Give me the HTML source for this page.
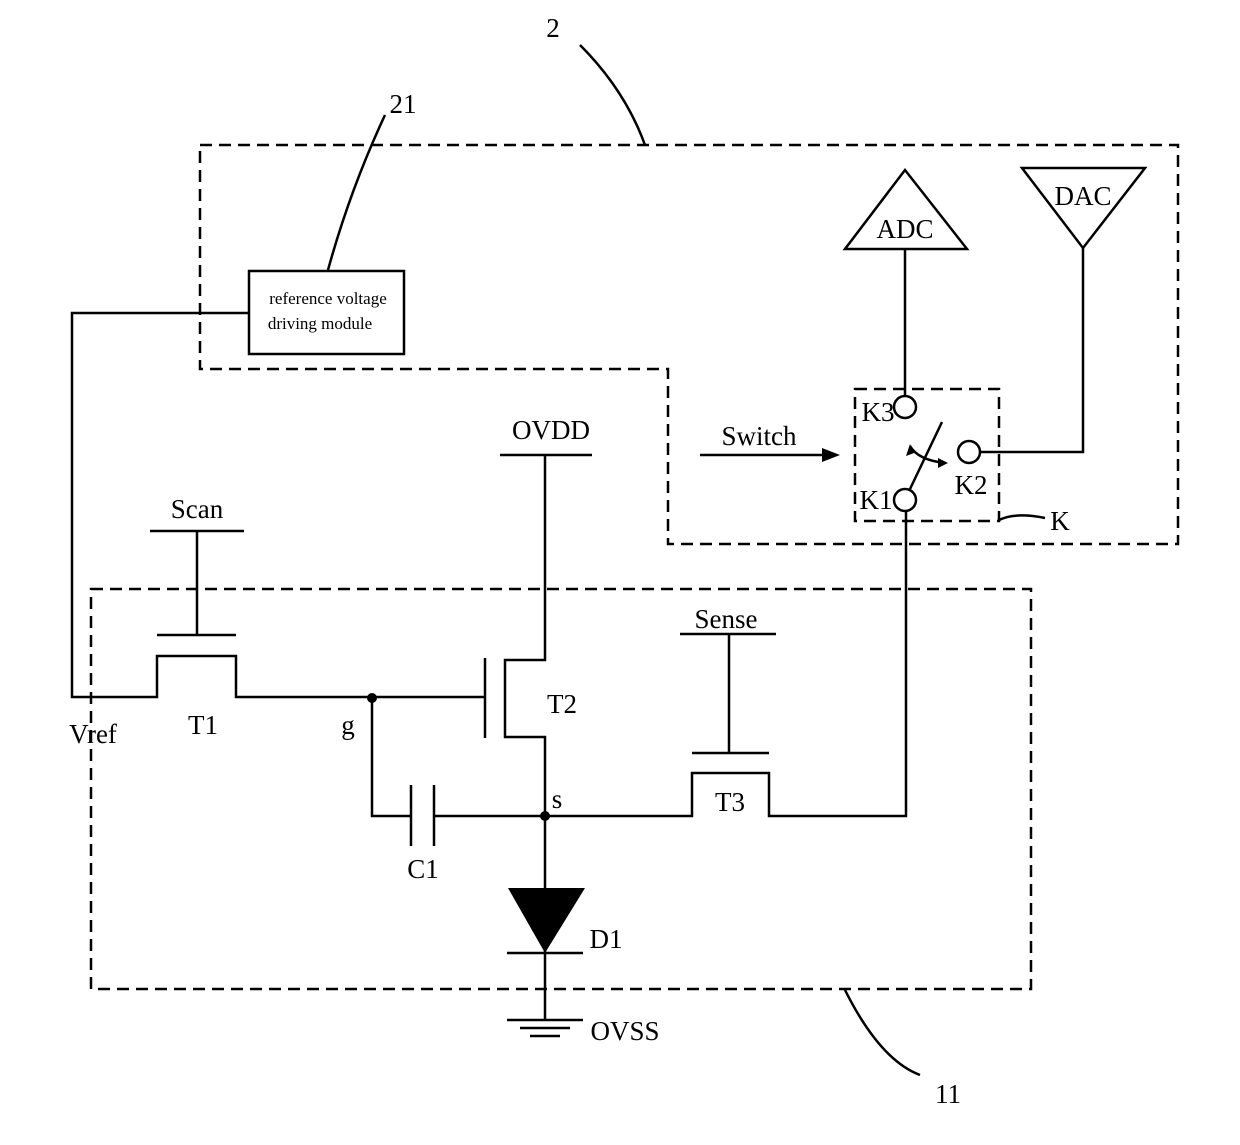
<!DOCTYPE html>
<html><head><meta charset="utf-8"><style>html,body{margin:0;padding:0;background:#fff}svg{display:block}</style></head><body>
<svg width="1240" height="1145" viewBox="0 0 1240 1145" xmlns="http://www.w3.org/2000/svg">
<g fill="none" stroke="#000" stroke-width="2.5">
<polygon points="200,145 1178,145 1178,544 668,544 668,369 200,369" stroke-dasharray="12,7"/>
<rect x="91" y="589" width="940" height="400" stroke-dasharray="12,7"/>
<rect x="855" y="389" width="144" height="132" stroke-dasharray="12,7"/>
<rect x="249" y="271" width="155" height="83"/>
<polyline points="249,313 72,313 72,697 157,697 157,656 236,656 236,697 485,697"/>
<line x1="485" y1="658" x2="485" y2="738"/>
<polyline points="545,455 545,660 505,660 505,737 545,737 545,1020"/>
<line x1="500" y1="455" x2="592" y2="455"/>
<line x1="150" y1="531" x2="244" y2="531"/><line x1="197" y1="531" x2="197" y2="635"/><line x1="157" y1="635" x2="236" y2="635"/>
<polyline points="372,698 372,816 411,816"/>
<line x1="411" y1="785" x2="411" y2="846"/><line x1="434" y1="785" x2="434" y2="846"/>
<polyline points="434,816 692,816 692,773 769,773 769,816 906,816 906,511"/>
<line x1="680" y1="634" x2="776" y2="634"/><line x1="729" y1="634" x2="729" y2="753"/><line x1="692" y1="753" x2="769" y2="753"/>
<line x1="507" y1="953" x2="583" y2="953"/>
<line x1="507" y1="1020" x2="583" y2="1020"/><line x1="520" y1="1028" x2="570" y2="1028"/><line x1="530" y1="1036" x2="560" y2="1036"/>
<polygon points="845,249 967,249 905,170"/>
<polygon points="1022,168 1145,168 1083,248"/>
<line x1="905" y1="250" x2="905" y2="396"/>
<polyline points="1083,248 1083,452 980,452"/>
<circle cx="905" cy="407" r="11"/><circle cx="969" cy="452" r="11"/><circle cx="905" cy="500" r="11"/>
<line x1="910" y1="489" x2="942" y2="422"/>
<path d="M910,446 Q918,460 945,463"/>
<line x1="700" y1="455" x2="830" y2="455"/>
<path d="M580,45 Q625,90 645,145"/>
<path d="M385,115 Q350,190 328,270"/>
<path d="M845,990 Q880,1060 920,1075"/>
<path d="M999,520 Q1015,512 1045,518"/>
</g>
<g fill="#000">
<circle cx="372" cy="698" r="5"/><circle cx="545" cy="816" r="5"/>
<polygon points="508,888 585,888 545,953"/>
<polygon points="840,455 822,448 822,462"/>
<polygon points="910,444 906,456 914,453"/>
<polygon points="948,463 938,458 938,468"/>
</g>
<g font-family="Liberation Serif, serif" font-size="27" fill="#000">
<text x="905" y="238" text-anchor="middle">ADC</text>
<text x="1083" y="205" text-anchor="middle">DAC</text>
<text x="551" y="439" text-anchor="middle">OVDD</text>
<text x="759" y="445" text-anchor="middle">Switch</text>
<text x="197" y="518" text-anchor="middle">Scan</text>
<text x="726" y="628" text-anchor="middle">Sense</text>
<text x="562" y="713" text-anchor="middle">T2</text>
<text x="93" y="743" text-anchor="middle">Vref</text>
<text x="203" y="734" text-anchor="middle">T1</text>
<text x="348" y="734" text-anchor="middle">g</text>
<text x="557" y="808" text-anchor="middle">s</text>
<text x="730" y="811" text-anchor="middle">T3</text>
<text x="423" y="878" text-anchor="middle">C1</text>
<text x="606" y="948" text-anchor="middle">D1</text>
<text x="625" y="1040" text-anchor="middle">OVSS</text>
<text x="878" y="421" text-anchor="middle">K3</text>
<text x="971" y="494" text-anchor="middle">K2</text>
<text x="876" y="509" text-anchor="middle">K1</text>
<text x="1060" y="530" text-anchor="middle">K</text>
<text x="553" y="37" text-anchor="middle">2</text>
<text x="403" y="113" text-anchor="middle">21</text>
<text x="948" y="1103" text-anchor="middle">11</text>
</g>
<g font-family="Liberation Serif, serif" font-size="17" fill="#000">
<text x="328" y="304" text-anchor="middle">reference voltage</text>
<text x="320" y="329" text-anchor="middle">driving module</text>
</g>
</svg>
</body></html>
